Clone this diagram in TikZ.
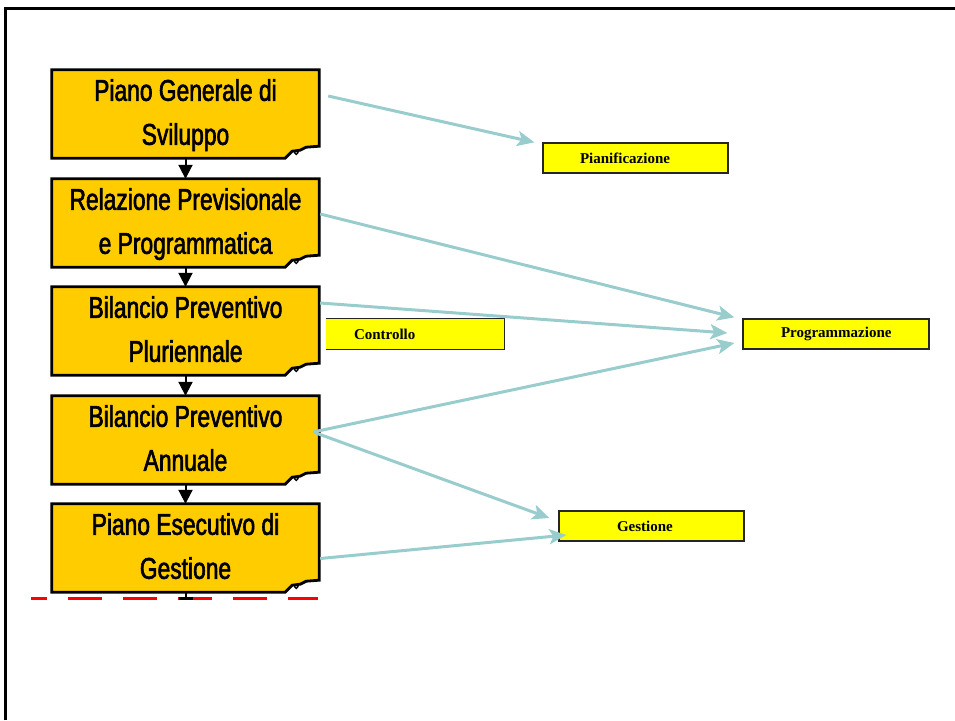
\documentclass[tikz,border=0pt]{standalone}
\usepackage{fontspec}
\setmainfont{Liberation Serif}
\newfontfamily\narrowsans[FakeStretch=0.76,FakeBold=2]{Liberation Sans}
\usetikzlibrary{arrows.meta,calc,backgrounds}
\definecolor{docorange}{HTML}{FFCC00}
\definecolor{labelyellow}{HTML}{FFFF00}
\definecolor{linkteal}{HTML}{99CCCC}

\tikzset{
  doc/.style={minimum width=267pt, minimum height=85pt, inner sep=0pt, align=center,
    font=\narrowsans\fontsize{30}{44}\selectfont},
  docline/.style={draw=black, fill=docorange, line width=2.8pt, line join=miter},
  tag/.style={fill=labelyellow, minimum height=30pt, inner ysep=0pt, align=left,
    font=\bfseries\fontsize{15}{18}\selectfont},
  tagline/.style={draw=black!85, line width=1.3pt},
  flow/.style={line width=2pt, -{Triangle[length=14pt,width=14pt]}},
  link/.style={draw=linkteal, line width=3pt, -{Stealth[length=17pt,width=15pt,inset=4pt]}},
}

% document box with a curled bottom-right corner
\newcommand\docshape[1]{%
  \path[docline] (#1.north west) -- (#1.north east)
    -- ([yshift=12pt]#1.south east)
    -- ([xshift=-13pt,yshift=11pt]#1.south east)
    -- ([xshift=-19pt,yshift=8pt]#1.south east)
    -- ([xshift=-27pt,yshift=7pt]#1.south east)
    -- ([xshift=-34pt]#1.south east)
    -- (#1.south west) -- cycle;
  \draw[line width=1.2pt] ([xshift=-23pt,yshift=5.5pt]#1.south east) circle (1.8pt);
}

\begin{document}
\begin{tikzpicture}[x=1pt,y=-1pt]
\useasboundingbox (0,0) rectangle (955,720);

% page frame
\draw[line width=3pt] (5,720) -- (5,8) -- (955,8);

% document chain
\node[doc] (b1) at (185.5,114) {\strut Piano Generale di\\\strut Sviluppo};
\node[doc] (b2) at (185.5,223) {\strut Relazione Previsionale\\\strut e Programmatica};
\node[doc] (b3) at (185.5,331) {\strut Bilancio Preventivo\\\strut Pluriennale};
\node[doc] (b4) at (185.5,440) {\strut Bilancio Preventivo\\\strut Annuale};
\node[doc] (b5) at (185.5,548) {\strut Piano Esecutivo di\\\strut Gestione};
\coordinate (tail) at (185.5,598);

\begin{scope}[on background layer]
  \docshape{b1}\docshape{b2}\docshape{b3}\docshape{b4}\docshape{b5}
\end{scope}

\draw[flow] (b1.south) -- (b2.north);
\draw[flow] (b2.south) -- (b3.north);
\draw[flow] (b3.south) -- (b4.north);
\draw[flow] (b4.south) -- (b5.north);

% cut line below the chain
\draw[red, line width=3pt, dash pattern=on 34pt off 21pt, dash phase=18pt] (31,598) -- (318,598);
\draw[line width=2pt] (b5.south) -- (tail);
\draw[line width=3pt] ([xshift=-7pt]tail) -- ([xshift=7pt]tail);

% phase labels
\node[tag, tagline, text width=111pt, inner xsep=37pt] (pian) at (635.5,158) {Pianificazione};
\node[tag, text width=122pt, inner xsep=28pt] (ctrl) at (415,334) {Controllo};
\draw[tagline] (ctrl.north west) -- (ctrl.north east) -- (ctrl.south east) -- (ctrl.south west);
\node[tag, tagline, text width=110pt, inner xsep=38pt] (prog) at (836,334) {Programmazione};
\node[tag, tagline, text width=69pt, inner xsep=58pt] (gest) at (651.5,526) {Gestione};

% links from documents to phases
\draw[link] ($(b1.east)+(9,-18)$) -- ($(pian.north west)+(-8,0)$);
\draw[link] ($(b2.east)+(1,-9)$) -- ($(prog.north west)+(-8,-1)$);
\draw[link] ($(b3.east)+(1,-28)$) -- ($(prog.west)+(-15,-1)$);
\draw[link] ($(b4.east)+(-6,-8)$) -- ($(prog.west)+(-8,9)$);
\draw[link] ($(b4.east)+(-6,-8)$) -- ($(gest.west)+(-9,-8)$);
\draw[link] ($(b5.east)+(1,10.5)$) -- ($(gest.west)+(8,9)$);
\end{tikzpicture}
\end{document}
